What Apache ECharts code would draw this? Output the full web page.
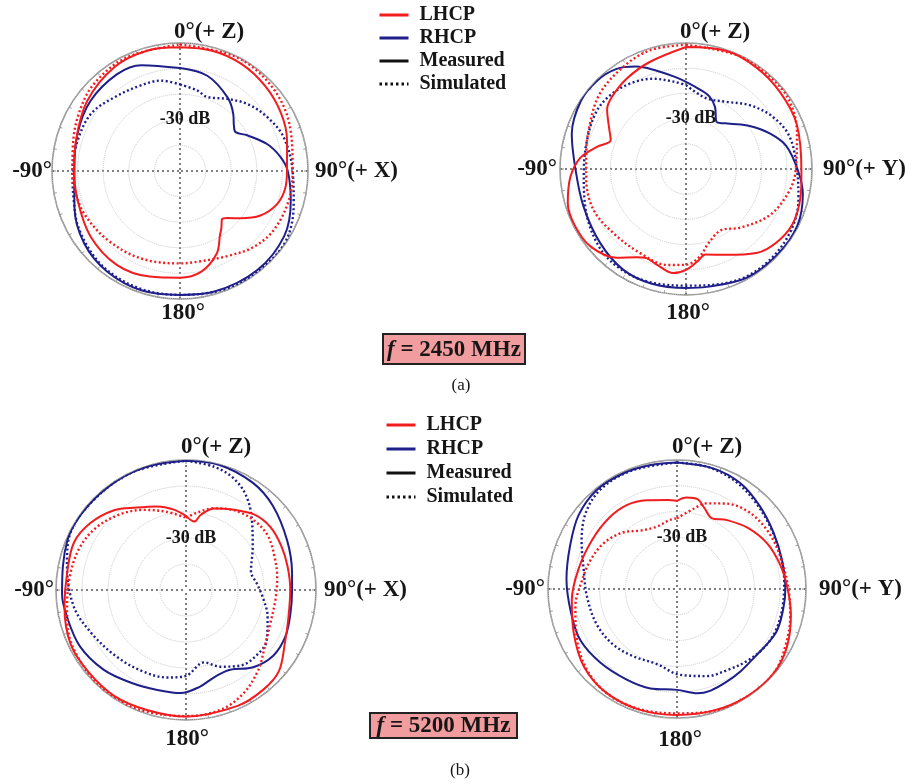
<!DOCTYPE html>
<html><head><meta charset="utf-8">
<script src="https://cdn.jsdelivr.net/npm/echarts@6/dist/echarts.min.js"></script>
<style>html,body{margin:0;padding:0;background:#fff}#c{width:912px;height:784px}</style>
</head><body><div id="c"></div>
<script>
// ---- data: [angle (deg, clockwise from +Z), gain (dB)] ----
const radialTicks = [-50, -40, -30, -20, -10, 0];
const legendNames = ['LHCP', 'RHCP', 'Measured', 'Simulated'];
const freqLabels = ['2450 MHz', '5200 MHz'];
const panelLabels = ['(a)', '(b)'];

// Plot 1: f = 2450 MHz, X-Z plane
const p1LhcpMeas = [[0,-1.7],[15,-1.4],[30,-1.8],[45,-3],[60,-4.5],[74,-6.5],[90,-8.2],[100,-8.4],[109,-10],[119,-14.1],[128,-20],[135,-24],[139,-25],[144,-22.5],[148,-20.5],[156,-14.7],[168,-9.8],[180,-8.3],[196,-7.1],[214,-5.8],[234,-6.7],[254,-8.4],[270,-8.7],[286,-7.7],[307,-4.6],[328,-2],[345,-1.3],[360,-1.7]];
const p1LhcpSim = [[0,-0.6],[30,-0.3],[60,-2.5],[90,-6],[105,-6],[122,-6.7],[136,-8.7],[151,-12],[169,-13.9],[180,-13.9],[204,-12.6],[226,-11],[246,-9],[261,-8.2],[270,-8],[281,-7.3],[298,-4.8],[315,-2.2],[335,-1],[360,-0.6]];
const p1RhcpMeas = [[0,-9.8],[16,-11.3],[33,-15.8],[43,-19.5],[50,-22.5],[55,-23.5],[62,-20.3],[73,-14.3],[82,-10.4],[90,-7.9],[105,-5.2],[122,-2],[142,-0.9],[164,-1],[180,-1.6],[198,-1],[216,-1.5],[233,-3.1],[251,-6.4],[270,-8.7],[290,-7.4],[308,-5.6],[327,-4.9],[340,-6],[360,-9.8]];
const p1RhcpSim = [[0,-16.2],[12,-17.8],[20,-19.2],[33,-16.4],[45,-12.9],[58,-10],[72,-7.4],[90,-6],[106,-3.8],[123,-0.5],[139,-0.4],[158,-0.6],[180,-1.6],[200,-1.5],[220,-2.2],[240,-4.5],[255,-7],[270,-8],[287,-8.3],[303,-8.7],[318,-11.4],[335,-13.2],[348,-13.9],[360,-16.2]];

// Plot 2: f = 2450 MHz, Y-Z plane
const p2LhcpMeas = [[0,-1.6],[19,-0.5],[35,-1],[51,-1.8],[68,-2.6],[91,-4.2],[99,-3.7],[115,-2.4],[127,-3.4],[140,-6.5],[155,-12.4],[167,-15.2],[173,-13],[180,-10],[187,-8.4],[197,-10.3],[204,-11.3],[209,-10],[218,-5.3],[231,-1.2],[243,-0.5],[254,-1.2],[266,-4],[276,-7.8],[284,-13.6],[291,-18],[299,-15],[307,-10.8],[314,-9],[327,-7.1],[341,-5.2],[360,-1.6]];
const p2LhcpSim = [[0,-0.7],[25,-0.4],[42,-0.5],[56,-0.8],[72,-3.7],[91,-6.5],[103,-8.3],[119,-12.1],[137,-18.2],[150,-22],[163,-19.3],[171,-14.9],[180,-12],[191,-11.2],[209,-12],[228,-11.6],[246,-9.9],[264,-10.2],[279,-9.9],[295,-7.9],[311,-4.6],[328,-2.5],[343,-0.8],[360,-0.7]];
const p2RhcpMeas = [[0,-15.4],[10,-18],[18,-19.8],[25,-22.8],[33,-27.7],[44,-25],[56,-19.5],[67,-13.9],[77,-9.2],[91,-5.5],[102,-2.6],[117,-0.4],[133,-0.3],[151,-0.6],[170,-2.5],[180,-2.8],[197,-2.5],[212,-2.9],[229,-5],[250,-6.7],[271,-6],[287,-2.6],[303,-0.3],[315,-0.3],[325,-1.6],[334,-4.8],[343,-9.1],[352,-12.8],[360,-15.4]];
const p2RhcpSim = [[0,-16.7],[11,-20.2],[19,-20.8],[31,-18.9],[45,-14.2],[59,-9.8],[73,-6.9],[91,-5.9],[105,-3.8],[122,-1.6],[140,-0.9],[157,-1.6],[180,-3.7],[199,-2.8],[215,-2.6],[230,-4],[250,-7.4],[268,-9.4],[286,-9.1],[302,-7.8],[314,-8],[327,-9.5],[340,-11.9],[352,-15],[360,-16.7]];

// Plot 3: f = 5200 MHz, X-Z plane
const p3LhcpMeas = [[0,-21.5],[7,-23.5],[11,-20.6],[19,-16.8],[31,-14],[42,-10.9],[53,-9.5],[65,-9.6],[77,-9.9],[90,-9.9],[105,-9.2],[118,-6.9],[131,-2.6],[142,-1.5],[156,-1.2],[180,-1.3],[198,-1.5],[214,-0.8],[230,-1],[245,-1],[262,-2.8],[278,-3.8],[293,-3.2],[305,-5.1],[318,-8.7],[329,-13],[341,-16],[351,-18.6],[360,-21.5]];
const p3LhcpSim = [[0,-22.2],[8,-20],[19,-16.8],[31,-14.2],[44,-12.6],[56,-12.2],[68,-13.5],[82,-14.6],[96,-15.4],[112,-15.1],[126,-12.6],[138,-8.5],[151,-4.5],[164,-2],[180,-1.5],[201,-0.6],[217,-0.3],[232,-0.8],[250,-1.9],[262,-3.8],[278,-5.1],[292,-6],[305,-8],[319,-11.4],[332,-15.1],[346,-19],[360,-22.2]];
const p3RhcpMeas = [[0,-0.3],[15,-0.2],[32,-1.4],[46,-3.5],[64,-6.7],[81,-8.7],[90,-9.2],[103,-8.8],[115,-7.8],[127,-8],[139,-10.6],[151,-14.9],[161,-14.9],[172,-12.4],[183,-10.3],[196,-10],[211,-8.5],[226,-5.9],[242,-3.8],[257,-3.1],[268,-2.3],[293,-0.5],[310,-0.3],[328,-0.3],[344,-0.3],[360,-0.3]];
const p3RhcpSim = [[0,-0.3],[13,-1.4],[23,-3.3],[33,-7.2],[45,-14],[57,-19.4],[74,-24],[85,-22.6],[96,-20.2],[108,-17],[122,-13.4],[132,-13],[144,-14.1],[156,-17.7],[166,-21.3],[180,-17],[192,-15.6],[207,-14.6],[226,-13],[246,-9.9],[262,-6.3],[282,-3.2],[293,-0.9],[310,-0.3],[335,-0.2],[360,-0.3]];

// Plot 4: f = 5200 MHz, Y-Z plane
const p4LhcpMeas = [[0,-15.8],[6,-14.3],[13,-14.3],[19,-17],[26,-19.4],[36,-17],[49,-13.8],[63,-10.9],[77,-8.9],[90,-7.1],[103,-4.7],[118,-1.8],[131,-0.3],[147,-0.3],[163,-0.8],[180,-1.2],[197,-1],[214,-1.3],[230,-3],[247,-6.5],[264,-9],[282,-11.1],[300,-12],[316,-11.9],[329,-12.1],[341,-13.6],[354,-15.3],[360,-15.8]];
const p4LhcpSim = [[0,-22.6],[12,-18.1],[19,-14.9],[29,-12.1],[42,-9.3],[57,-8.3],[73,-8],[91,-6.7],[104,-4.8],[118,-2.5],[131,-0.3],[146,-0.2],[162,-0.6],[180,-1.8],[198,-1.2],[214,-1.3],[228,-3.1],[243,-6.5],[260,-10],[275,-13],[288,-14.6],[302,-16.5],[316,-19.6],[328,-23.3],[342,-24.6],[354,-23.1],[360,-22.6]];
const p4RhcpMeas = [[0,-1],[17,-1.2],[31,-2.2],[45,-4.6],[60,-6.7],[75,-7.8],[90,-8],[101,-8.1],[114,-8.1],[132,-10],[142,-9.7],[152,-9.2],[162,-8.5],[169,-8.8],[180,-10.9],[195,-10.1],[209,-9.8],[226,-8.8],[242,-7.6],[257,-7.9],[275,-7],[292,-5.3],[307,-2.3],[321,-0.6],[335,-0.6],[348,-0.9],[360,-1]];
const p4RhcpSim = [[0,-1],[14,-1.2],[28,-2.5],[41,-4.5],[56,-6.5],[71,-7.9],[85,-8.3],[100,-8.5],[113,-8.5],[124,-9.3],[136,-11.1],[148,-13],[161,-14.3],[178,-16.7],[195,-19.9],[213,-18.9],[229,-17.2],[246,-16],[265,-15],[282,-13],[297,-8.5],[311,-3.6],[324,-1.2],[340,-0.9],[360,-1]];

const axisTitles = [
  ['0°(+ Z)', '90°(+ X)', '-90°', '180°'],
  ['0°(+ Z)', '90°(+ Y)', '-90°', '180°'],
  ['0°(+ Z)', '90°(+ X)', '-90°', '180°'],
  ['0°(+ Z)', '90°(+ Y)', '-90°', '180°']
];

// ---- styling / layout ----
const RED = '#f21c1f', BLUE = '#1f1f8a', INK = '#161616';
const SERIF = '"Liberation Serif", "Times New Roman", serif';
const polarLayout = [
  {center: [180, 171], radius: 128},
  {center: [686, 169], radius: 126},
  {center: [186, 590], radius: 130},
  {center: [677, 589], radius: 129}
];
const plots = [
  [p1LhcpMeas, p1LhcpSim, p1RhcpMeas, p1RhcpSim],
  [p2LhcpMeas, p2LhcpSim, p2RhcpMeas, p2RhcpSim],
  [p3LhcpMeas, p3LhcpSim, p3RhcpMeas, p3RhcpSim],
  [p4LhcpMeas, p4LhcpSim, p4RhcpMeas, p4RhcpSim]
];

const polar = polarLayout.map(p => ({center: p.center, radius: p.radius}));
const angleAxis = polarLayout.map((p, i) => ({
  polarIndex: i, type: 'value', min: 0, max: 360, interval: 90,
  startAngle: 90, clockwise: true,
  axisLine: {show: true, lineStyle: {color: '#8c8c8c', width: 1.5}},
  axisTick: {show: true, inside: true, length: 4, lineStyle: {color: '#8c8c8c'}},
  minorTick: {show: true, splitNumber: 9, length: 3, lineStyle: {color: '#a0a0a0'}},
  axisLabel: {show: false},
  splitLine: {show: true, lineStyle: {color: '#555', type: [2, 3], width: 1.5}}
}));
const radiusAxis = polarLayout.map((p, i) => ({
  polarIndex: i, type: 'value', min: radialTicks[0], max: radialTicks[radialTicks.length - 1], interval: 10,
  axisLine: {show: false}, axisTick: {show: false},
  axisLabel: {
    show: true, margin: 0, align: 'center', verticalAlign: 'middle', padding: [0, 0, 0, 10],
    formatter: v => (v === -30 ? '-30 dB' : ''),
    fontFamily: SERIF, fontWeight: 'bold', fontSize: 18, color: INK
  },
  splitLine: {show: true, lineStyle: {color: '#c8c8c8', type: 'dotted', width: 1}},
  z: 3
}));

const series = [];
plots.forEach((curves, i) => {
  const defs = [
    {d: curves[3], color: BLUE, dotted: true},
    {d: curves[2], color: BLUE, dotted: false},
    {d: curves[1], color: RED, dotted: true},
    {d: curves[0], color: RED, dotted: false}
  ];
  defs.forEach(def => {
    series.push({
      type: 'line', coordinateSystem: 'polar', polarIndex: i,
      data: def.d.map(p => [p[1], p[0]]),
      smooth: 0.35, symbol: 'none', silent: true,
      lineStyle: {color: def.color, width: def.dotted ? 2.4 : 2, type: def.dotted ? [2, 2.5] : 'solid'},
      z: 4
    });
  });
});
// legend entries
const legendStyles = {
  LHCP: {color: RED, type: 'solid'}, RHCP: {color: BLUE, type: 'solid'},
  Measured: {color: '#111', type: 'solid'}, Simulated: {color: '#111', type: [2.5, 3]}
};
legendNames.forEach(n => {
  series.push({
    name: n, type: 'line', coordinateSystem: 'polar', polarIndex: 0, data: [], symbol: 'none',
    itemStyle: {color: legendStyles[n].color},
    lineStyle: {color: legendStyles[n].color, width: 3, type: legendStyles[n].type}
  });
});
const legendText = {fontFamily: SERIF, fontWeight: 'bold', fontSize: 20, color: INK, lineHeight: 20, padding: [0, 0, 0, 6]};
const legendBase = {data: legendNames, orient: 'vertical', itemWidth: 29, itemHeight: 12, padding: 0,
  selectedMode: false, textStyle: legendText, itemStyle: {opacity: 0, borderWidth: 0},
  lineStyle: {width: 3}};
const legend = [
  Object.assign({}, legendBase, {left: 378, top: 5, itemGap: 3}),
  Object.assign({}, legendBase, {left: 385, top: 415, itemGap: 4})
];

// graphics: axis titles, frequency boxes, panel labels
const titleFont = {fontFamily: SERIF, fontWeight: 'bold', fontSize: 23, fill: INK};
const titlePos = [
  {top: [174, 32], right: [315, 171], left: [52, 171], bottom: [183, 313]},
  {top: [680, 32], right: [823, 169], left: [557, 169], bottom: [688, 313]},
  {top: [181, 447], right: [324, 590], left: [54, 590], bottom: [187, 739]},
  {top: [672, 447], right: [819, 589], left: [545, 589], bottom: [680, 740]}
];
const graphic = [];
titlePos.forEach((tp, i) => {
  const t = axisTitles[i];
  graphic.push({type: 'text', x: tp.top[0], y: tp.top[1], style: Object.assign({text: t[0], align: 'left', verticalAlign: 'middle'}, titleFont)});
  graphic.push({type: 'text', x: tp.right[0], y: tp.right[1], style: Object.assign({text: t[1], align: 'left', verticalAlign: 'middle'}, titleFont)});
  graphic.push({type: 'text', x: tp.left[0], y: tp.left[1], style: Object.assign({text: t[2], align: 'right', verticalAlign: 'middle'}, titleFont)});
  graphic.push({type: 'text', x: tp.bottom[0], y: tp.bottom[1], style: Object.assign({text: t[3], align: 'center', verticalAlign: 'middle'}, titleFont)});
});
const boxes = [
  {x: 383, y: 334, w: 142, h: 30, label: [461, 386]},
  {x: 370, y: 713, w: 147, h: 25, label: [460, 771]}
];
boxes.forEach((b, i) => {
  graphic.push({type: 'rect', shape: {x: b.x, y: b.y, width: b.w, height: b.h}, style: {fill: '#f19c9e', stroke: '#222', lineWidth: 2}});
  graphic.push({type: 'text', x: b.x + b.w / 2, y: b.y + b.h / 2 + 1, style: {
    text: '{i|f} = ' + freqLabels[i], align: 'center', verticalAlign: 'middle',
    fontFamily: SERIF, fontWeight: 'bold', fontSize: 23, fill: INK,
    rich: {i: {fontFamily: SERIF, fontWeight: 'bold', fontStyle: 'italic', fontSize: 23, fill: INK}}
  }});
  graphic.push({type: 'text', x: b.label[0], y: b.label[1], style: {text: panelLabels[i], align: 'center', verticalAlign: 'middle', fontFamily: SERIF, fontSize: 17, fill: INK}});
});

const chart = echarts.init(document.getElementById('c'), null, {renderer: 'canvas'});
chart.setOption({
  animation: false,
  backgroundColor: '#fff',
  polar, angleAxis, radiusAxis, series, legend, graphic
});
</script>
</body></html>
